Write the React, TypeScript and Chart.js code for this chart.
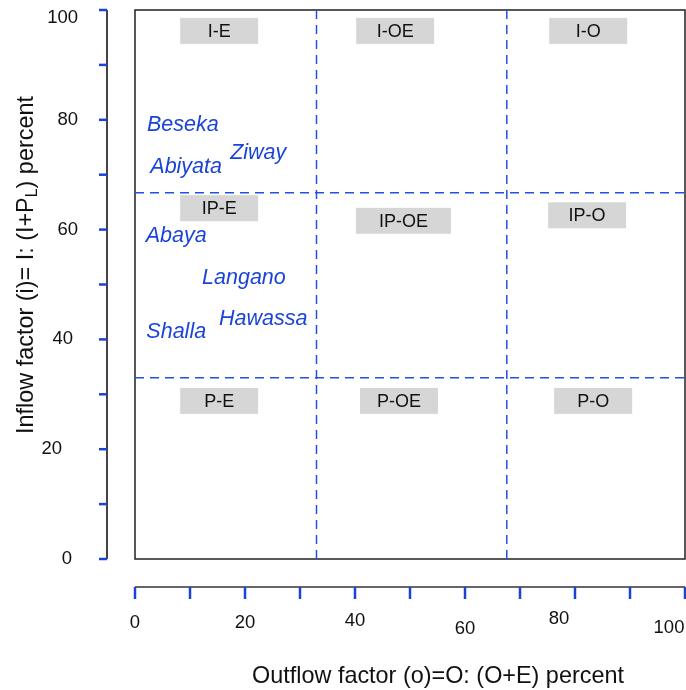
import React, { useEffect, useRef } from "react";
import { Chart, registerables } from "chart.js";

Chart.register(...registerables);

// ---- data ----
const lakeNames = ["Beseka", "Ziway", "Abiyata", "Abaya", "Langano", "Hawassa", "Shalla"];
const lakeOutflow = [8.7, 22.4, 9.3, 7.5, 19.8, 23.3, 7.5];
const lakeInflow = [79.0, 73.9, 71.4, 58.9, 51.1, 43.8, 41.4];

const classNames = ["I-E", "I-OE", "I-O", "IP-E", "IP-OE", "IP-O", "P-E", "P-OE", "P-O"];
const classOutflow = [15.3, 47.3, 82.4, 15.3, 48.8, 82.2, 15.3, 48.0, 83.3];
const classInflow = [96.2, 96.2, 96.2, 63.9, 61.6, 62.6, 28.8, 28.8, 28.8];

const outflowBounds = [33, 67.6];
const inflowBounds = [33, 66.7];

const axisTicks = [0, 10, 20, 30, 40, 50, 60, 70, 80, 90, 100];
const tickLabels = [0, 20, 40, 60, 80, 100];

const xTitle = "Outflow factor (o)=O: (O+E) percent";
const yTitleParts = ["Inflow factor (i)= I: (I+P", "L", ") percent"];

// ---- styles ----
const BLUE = "#1a44d8";
const LINE_BLUE = "#2350e0";
const FONT = "'Liberation Sans', Arial, Helvetica, sans-serif";
const BOX_W: Record<string, number> = { "IP-OE": 95 };
const yLabelNudge: Record<number, [number, number]> = {
  100: [0, 8], 80: [0, 0], 60: [0, 0], 40: [-5, 0], 20: [-16, 0], 0: [-6, 0],
};
const xLabelNudge: Record<number, [number, number]> = {
  0: [0, 0], 20: [0, 0], 40: [0, -2], 60: [0, 6], 80: [-16, -4], 100: [-16, 5],
};

const drawPlugin = {
  id: "customDraw",
  beforeDatasetsDraw(chart: any) {
    const { ctx, chartArea } = chart;
    ctx.save();
    ctx.strokeStyle = "#222";
    ctx.lineWidth = 1.5;
    ctx.strokeRect(chartArea.left, chartArea.top, chartArea.right - chartArea.left, chartArea.bottom - chartArea.top);
    ctx.restore();
  },
  afterDatasetsDraw(chart: any) {
    const { ctx } = chart;
    const xs = chart.scales.x;
    const ys = chart.scales.y;
    ctx.save();

    // class boxes
    const cMeta = chart.getDatasetMeta(2);
    ctx.font = `18px ${FONT}`;
    ctx.textAlign = "center";
    ctx.textBaseline = "middle";
    cMeta.data.forEach((el: any, i: number) => {
      const name = classNames[i];
      const w = BOX_W[name] ?? 78;
      const h = 26;
      ctx.fillStyle = "#d6d6d6";
      ctx.fillRect(el.x - w / 2, el.y - h / 2, w, h);
      ctx.fillStyle = "#111";
      ctx.fillText(name, el.x, el.y + 1);
    });

    // lake labels
    const lMeta = chart.getDatasetMeta(3);
    ctx.font = `italic 21.5px ${FONT}`;
    ctx.fillStyle = BLUE;
    lMeta.data.forEach((el: any, i: number) => {
      ctx.fillText(lakeNames[i], el.x, el.y);
    });

    // y axis
    const yTop = ys.getPixelForValue(100);
    const yBot = ys.getPixelForValue(0);
    const yAxisX = 107;
    ctx.strokeStyle = "#444";
    ctx.lineWidth = 2;
    ctx.beginPath();
    ctx.moveTo(yAxisX, yTop);
    ctx.lineTo(yAxisX, yBot);
    ctx.stroke();
    ctx.strokeStyle = BLUE;
    ctx.lineWidth = 2.5;
    axisTicks.forEach((t) => {
      const py = ys.getPixelForValue(t);
      ctx.beginPath();
      ctx.moveTo(yAxisX - 8, py);
      ctx.lineTo(yAxisX, py);
      ctx.stroke();
    });
    ctx.fillStyle = "#111";
    ctx.font = `18.5px ${FONT}`;
    ctx.textAlign = "right";
    tickLabels.forEach((t) => {
      const [dx, dy] = yLabelNudge[t] ?? [0, 0];
      ctx.fillText(String(t), 78 + dx, ys.getPixelForValue(t) + dy);
    });

    // x axis
    const xAxisY = 587;
    const xL = xs.getPixelForValue(0);
    const xR = xs.getPixelForValue(100);
    ctx.strokeStyle = "#333";
    ctx.lineWidth = 1.5;
    ctx.beginPath();
    ctx.moveTo(xL, xAxisY);
    ctx.lineTo(xR, xAxisY);
    ctx.stroke();
    ctx.strokeStyle = BLUE;
    ctx.lineWidth = 2.5;
    axisTicks.forEach((t) => {
      const px = xs.getPixelForValue(t);
      ctx.beginPath();
      ctx.moveTo(px, xAxisY);
      ctx.lineTo(px, xAxisY + 12);
      ctx.stroke();
    });
    ctx.textAlign = "center";
    tickLabels.forEach((t) => {
      const [dx, dy] = xLabelNudge[t] ?? [0, 0];
      ctx.fillText(String(t), xs.getPixelForValue(t) + dx, 623 + dy);
    });

    // axis titles
    ctx.font = `23.4px ${FONT}`;
    ctx.fillText(xTitle, 438, 677);

    ctx.save();
    ctx.translate(25, 265);
    ctx.rotate(-Math.PI / 2);
    const mainFont = `23.4px ${FONT}`;
    const subFont = `16px ${FONT}`;
    ctx.font = mainFont;
    const w0 = ctx.measureText(yTitleParts[0]).width;
    const w2 = ctx.measureText(yTitleParts[2]).width;
    ctx.font = subFont;
    const w1 = ctx.measureText(yTitleParts[1]).width;
    const total = w0 + w1 + w2;
    let cx = -total / 2;
    ctx.textAlign = "left";
    ctx.textBaseline = "alphabetic";
    ctx.font = mainFont;
    ctx.fillText(yTitleParts[0], cx, 8);
    cx += w0;
    ctx.font = subFont;
    ctx.fillText(yTitleParts[1], cx, 12);
    cx += w1;
    ctx.font = mainFont;
    ctx.fillText(yTitleParts[2], cx, 8);
    ctx.restore();

    ctx.restore();
  },
};

export default function App() {
  const ref = useRef<HTMLCanvasElement | null>(null);
  useEffect(() => {
    if (!ref.current) return;
    const lineStyle = {
      type: "scatter" as const,
      showLine: true,
      borderColor: LINE_BLUE,
      borderWidth: 1.5,
      borderDash: [9, 6],
      pointRadius: 0,
      fill: false,
    };
    const chart = new Chart(ref.current, {
      type: "scatter",
      data: {
        datasets: [
          {
            ...lineStyle,
            data: [
              { x: outflowBounds[0], y: 0 },
              { x: outflowBounds[0], y: 100 },
              { x: NaN, y: NaN },
              { x: outflowBounds[1], y: 0 },
              { x: outflowBounds[1], y: 100 },
            ],
            spanGaps: false,
          } as any,
          {
            ...lineStyle,
            data: [
              { x: 0, y: inflowBounds[0] },
              { x: 100, y: inflowBounds[0] },
              { x: NaN, y: NaN },
              { x: 0, y: inflowBounds[1] },
              { x: 100, y: inflowBounds[1] },
            ],
            spanGaps: false,
          } as any,
          {
            data: classNames.map((_, i) => ({ x: classOutflow[i], y: classInflow[i] })),
            pointRadius: 0,
          },
          {
            data: lakeNames.map((_, i) => ({ x: lakeOutflow[i], y: lakeInflow[i] })),
            pointRadius: 0,
          },
        ],
      },
      options: {
        animation: false,
        responsive: false,
        layout: { padding: { left: 135, right: 1, top: 10, bottom: 131 } },
        plugins: { legend: { display: false }, tooltip: { enabled: false }, title: { display: false } },
        scales: {
          x: { type: "linear", min: 0, max: 100, display: false },
          y: { type: "linear", min: 0, max: 100, display: false },
        },
        events: [],
      },
      plugins: [drawPlugin],
    });
    return () => chart.destroy();
  }, []);
  return (
    <div style={{ position: "absolute", left: 0, top: 0, width: 686, height: 690, background: "#fff" }}>
      <canvas ref={ref} width={686} height={690} style={{ width: 686, height: 690 }} />
    </div>
  );
}
